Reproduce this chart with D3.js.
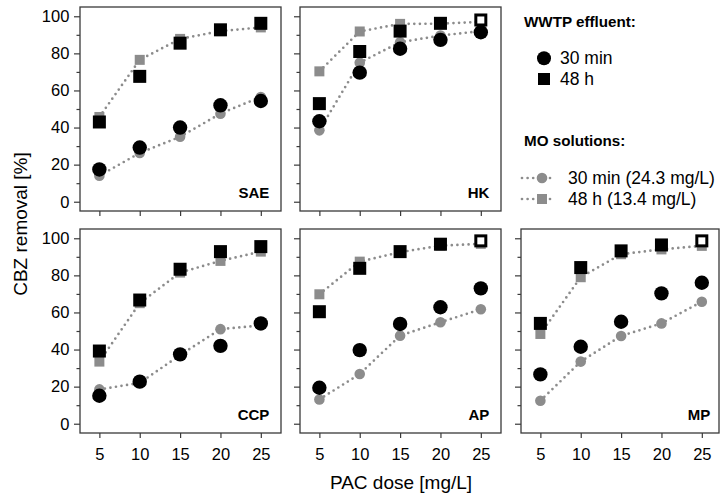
<!DOCTYPE html>
<html>
<head>
<meta charset="utf-8">
<script src="https://cdn.jsdelivr.net/npm/d3@7"></script>
<style>
body{margin:0;background:#fff;}
text{font-family:Arial,"Liberation Sans",sans-serif;}
</style>
</head>
<body>
<svg></svg>
<script>
var width=720;
var height=494;

// PAC doses [mg/L]
var doses=[5,10,15,20,25];
var panels=["SAE","HK","CCP","AP","MP"];

// WWTP effluent, CBZ removal [%]
var ww30=[[17.4,29.2,40,52,54.3],[43.4,69.6,82.5,87.3,91.4],[15.1,22.7,37.4,42,54.1],[19.4,39.7,53.8,62.8,73],[26.6,41.5,55,70.3,76]];
var ww48=[[43,67.6,85.5,92.7,96.2],[52.9,81,92,96.2,98],[39.2,66.7,83.3,92.8,95.5],[60.4,83.8,92.8,96.8,98.6],[54.1,84.2,93.2,96.4,98.6]];
// last 48 h point drawn hollow
var ww48open=[false,true,false,true,true];

// MO solutions
var mo30=[[14,26.3,35,47.5,56.5],[38.5,75,86,89.6,92],[18.5,22,37,51,53],[13.1,26.8,47.5,54.7,61.7],[12.4,33.5,47.3,54.1,65.8]];
var mo48=[[45.7,76.5,87.8,92,94],[70.3,91.8,95.9,96,97],[33.5,65,81.5,87.8,92.8],[69.8,87.4,92.5,96,97],[48.4,79,91.4,94,95.9]];

var yMajor=[0,20,40,60,80,100];
var yMinor=[10,30,50,70,90];

var gray="#8c8c8c";
var pw=201, ph=204;
var lefts=[80,300,521];
var tops=[7,229];
// panel grid positions: [col,row]
var pos=[[0,0],[1,0],[0,1],[1,1],[2,1]];

var svg=d3.select("svg")
	.attr("width",width)
	.attr("height",height);

var scalex=d3.scaleLinear()
	.domain([2.6,27.5])
	.range([0,pw]);

var scaley=d3.scaleLinear()
	.domain([-5,105])
	.range([ph,0]);

var line=d3.line()
	.x(function(d,i){return scalex(doses[i]);})
	.y(function(d){return scaley(d);});

panels.forEach(function(name,p){
	var col=pos[p][0], row=pos[p][1];
	var g=svg.append("g")
		.attr("transform","translate("+lefts[col]+","+tops[row]+")");

	// frame
	g.append("rect")
		.attr("x",0).attr("y",0)
		.attr("width",Math.min(pw,719-lefts[col]))
		.attr("height",ph)
		.attr("fill","none")
		.attr("stroke","#3a3a3a")
		.attr("stroke-width",1.3);

	// y axis
	var ymaj=g.append("g").call(
		d3.axisLeft(scaley).tickValues(yMajor).tickSize(6).tickPadding(4.7)
			.tickFormat(col==0?d3.format("d"):""));
	var ymin=g.append("g").call(
		d3.axisLeft(scaley).tickValues(yMinor).tickSize(3.5).tickFormat(""));

	// x axis
	var xax=g.append("g")
		.attr("transform","translate(0,"+ph+")")
		.call(d3.axisBottom(scalex).tickValues(doses).tickSize(5).tickPadding(10)
			.tickFormat(row==1?d3.format("d"):""));

	[ymaj,ymin,xax].forEach(function(a){
		a.select(".domain").remove();
		a.selectAll(".tick line").attr("stroke","#3a3a3a").attr("stroke-width",1.2);
		a.selectAll(".tick text").attr("fill","#000").style("font-size","16.5px")
			.style("font-family","Arial,'Liberation Sans',sans-serif");
	});

	// MO solutions: dotted lines and gray markers
	[mo30[p],mo48[p]].forEach(function(arr){
		g.append("path")
			.datum(arr)
			.attr("d",line)
			.attr("fill","none")
			.attr("stroke",gray)
			.attr("stroke-width",2.7)
			.attr("stroke-linecap","round")
			.attr("stroke-dasharray","0 5.6");
	});

	g.selectAll(".mo30")
		.data(mo30[p])
		.enter()
		.append("circle")
		.attr("cx",function(d,i){return scalex(doses[i]);})
		.attr("cy",function(d){return scaley(d);})
		.attr("r",5.3)
		.attr("fill",gray);

	g.selectAll(".mo48")
		.data(mo48[p])
		.enter()
		.append("rect")
		.attr("x",function(d,i){return scalex(doses[i])-5;})
		.attr("y",function(d){return scaley(d)-5;})
		.attr("width",10).attr("height",10)
		.attr("fill",gray);

	// WWTP effluent: black markers
	g.selectAll(".ww30")
		.data(ww30[p])
		.enter()
		.append("circle")
		.attr("cx",function(d,i){return scalex(doses[i]);})
		.attr("cy",function(d){return scaley(d);})
		.attr("r",7.2)
		.attr("fill","#000");

	g.selectAll(".ww48")
		.data(ww48[p])
		.enter()
		.append("rect")
		.each(function(d,i){
			var hollow=ww48open[p] && i==doses.length-1;
			var s=hollow?10:13;
			d3.select(this)
				.attr("x",scalex(doses[i])-s/2)
				.attr("y",scaley(d)-s/2)
				.attr("width",s).attr("height",s)
				.attr("fill",hollow?"#fff":"#000")
				.attr("stroke",hollow?"#000":"none")
				.attr("stroke-width",3);
		});

	// panel label
	g.append("text")
		.attr("x",pw-11.7)
		.attr("y",ph-12.7)
		.style("text-anchor","end")
		.style("font-weight","bold")
		.style("font-size","15px")
		.text(name);
});

// axis titles
svg.append("text")
	.attr("transform","translate(27,224) rotate(-90)")
	.style("text-anchor","middle")
	.style("font-size","19px")
	.text("CBZ removal [%]");

svg.append("text")
	.attr("x",401)
	.attr("y",489)
	.style("text-anchor","middle")
	.style("font-size","19px")
	.text("PAC dose [mg/L]");

// legend
var legend=svg.append("g");

legend.append("text")
	.attr("x",524).attr("y",26.7)
	.style("font-weight","bold").style("font-size","15.2px")
	.text("WWTP effluent:");

legend.append("circle")
	.attr("cx",544).attr("cy",58.3).attr("r",7)
	.attr("fill","#000");
legend.append("text")
	.attr("x",560).attr("y",64).style("font-size","17.5px")
	.text("30 min");

legend.append("rect")
	.attr("x",538).attr("y",73).attr("width",12).attr("height",12)
	.attr("fill","#000");
legend.append("text")
	.attr("x",560).attr("y",85).style("font-size","17.5px")
	.text("48 h");

legend.append("text")
	.attr("x",524).attr("y",145.7)
	.style("font-weight","bold").style("font-size","15.2px")
	.text("MO solutions:");

[["30 min (24.3 mg/L)",178,"circle"],["48 h (13.4 mg/L)",199,"square"]].forEach(function(item){
	legend.append("line")
		.attr("x1",522).attr("x2",553)
		.attr("y1",item[1]).attr("y2",item[1])
		.attr("stroke",gray)
		.attr("stroke-width",2.7)
		.attr("stroke-linecap","round")
		.attr("stroke-dasharray","0 5.6");
	if(item[2]=="circle"){
		legend.append("circle")
			.attr("cx",542).attr("cy",item[1]).attr("r",5.3)
			.attr("fill",gray);
	}else{
		legend.append("rect")
			.attr("x",537).attr("y",item[1]-5).attr("width",10).attr("height",10)
			.attr("fill",gray);
	}
	legend.append("text")
		.attr("x",568).attr("y",item[1]+6)
		.style("font-size","17.5px")
		.text(item[0]);
});
</script>
</body>
</html>
